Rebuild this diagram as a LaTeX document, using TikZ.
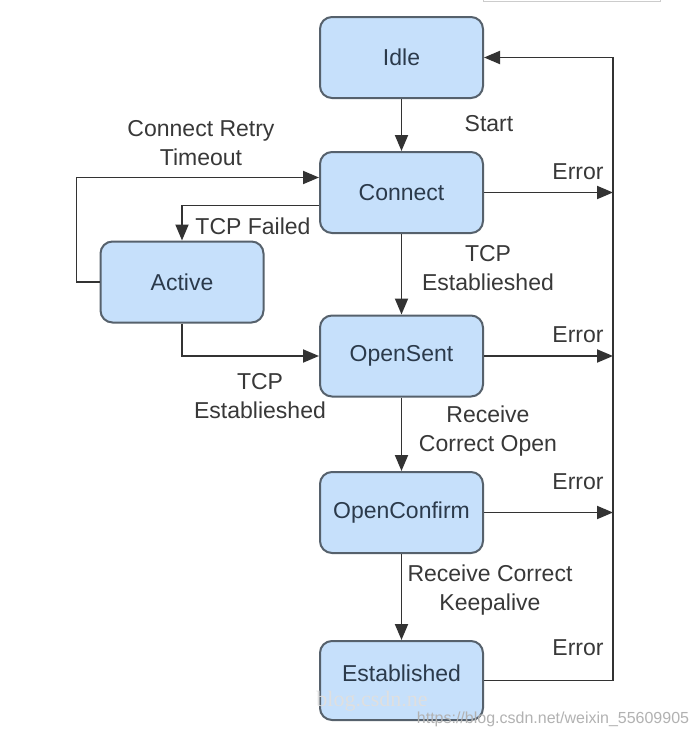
\documentclass[tikz,border=0pt]{standalone}
\usepackage{fontspec}
\setmainfont{Liberation Sans}
\newfontfamily\wmserif{Liberation Serif}
\usetikzlibrary{arrows.meta}
\definecolor{boxfill}{HTML}{C6E0FB}
\definecolor{boxline}{HTML}{56616C}
\definecolor{boxtext}{HTML}{2B3A4B}
\definecolor{linecol}{HTML}{333333}
\definecolor{labcol}{HTML}{383838}
\begin{document}
\begin{tikzpicture}[x=1pt,y=-1pt,
  state/.style={draw=boxline,fill=boxfill,line width=2pt,rounded corners=12pt,
    minimum width=163pt,minimum height=81pt,text=boxtext,
    font=\fontsize{23}{27}\selectfont,inner sep=0pt},
  conn/.style={draw=linecol,line width=1.9pt,-{Triangle[length=16pt,width=13pt]}},
  lab/.style={text=labcol,font=\fontsize{23}{29.5}\selectfont,align=center,inner sep=0pt}]
\useasboundingbox (0,0) rectangle (698,736);
\fill[white] (0,0) rectangle (698,736);
\draw[gray!40,line width=0.8pt] (483,-5) rectangle (660,1.5);

\node[state] (idle) at (401.5,57.5) {Idle};
\node[state] (connect) at (401.5,192.5) {Connect};
\node[state] (active) at (182,282) {Active};
\node[state] (opensent) at (401.5,356) {OpenSent};
\node[state] (openconfirm) at (401.5,512.5) {OpenConfirm};
\node[state,minimum height=79pt,text depth=14pt] (established) at (401.5,680.5) {Established};

\coordinate (e1) at (613,192.5);
\coordinate (e2) at (613,356);
\coordinate (e3) at (613,512.5);
\coordinate (rb) at (613,680.5);
\coordinate (rt) at (613,57.5);

\draw[conn] (idle) -- (connect);
\draw[conn] (connect) -- (opensent);
\draw[conn] (opensent) -- (openconfirm);
\draw[conn] (openconfirm) -- (established);

\draw[conn] (connect.east) -- (e1);
\draw[conn] (opensent.east) -- (e2);
\draw[conn] (openconfirm.east) -- (e3);
\draw[conn] (established.east) -- (rb) -- (rt) -- (idle.east);

\draw[conn] (active.west) -- ++(-23,0) |- ([yshift=15pt]connect.west);
\draw[conn] ([yshift=-13pt]connect.west) -| (active.north);
\draw[conn] (active.south) |- (opensent.west);

\node[lab] (lstart) at (489,124) {Start};
\node[lab] (lretry) at (201,143) {Connect Retry\\Timeout};
\node[lab] (lfail) at (253,226) {TCP Failed};
\node[lab] (ltcp1) at (488,268) {TCP\\Establieshed};
\node[lab] (ltcp2) at (260,396) {TCP\\Establieshed};
\node[lab] (lopen) at (488,431) {Receive\\Correct Open};
\node[lab] (lkeep) at (490,590) {Receive Correct\\Keepalive};
\node[lab] (err1) at (578,172) {Error};
\node[lab] (err2) at (578,335) {Error};
\node[lab] (err3) at (578,482) {Error};
\node[lab] (err4) at (578,648) {Error};

\node[text=gray!25,font=\wmserif\fontsize{22}{26}\selectfont,inner sep=0pt] (wm1) at (372,701) {blog.csdn.ne};
\node[text=gray!60,font=\fontsize{16}{19}\selectfont,inner sep=0pt] (wm2) at (553,719) {https://blog.csdn.net/weixin\_55609905};
\end{tikzpicture}
\end{document}
